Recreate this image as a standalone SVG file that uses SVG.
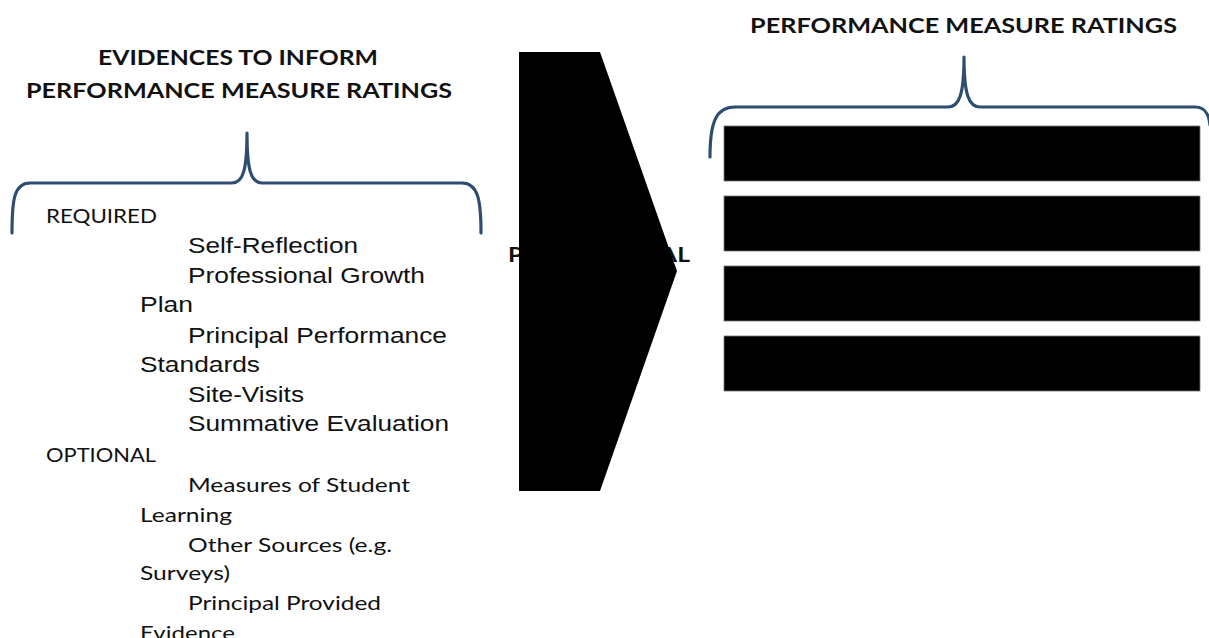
<svg xmlns="http://www.w3.org/2000/svg" width="1209" height="638" viewBox="0 0 1209 638">
<style>
.title{font-family:Lato,"Open Sans","Liberation Sans",sans-serif;font-weight:bold;font-size:21px;fill:#111}
.cal{font-family:Lato,"Open Sans","Liberation Sans",sans-serif;font-size:20px;fill:#111}
.ari{font-family:"Liberation Sans",Arial,sans-serif;font-size:22px;fill:#111}
.brace{fill:none;stroke:#2e4d70;stroke-width:3.2;stroke-linecap:round;stroke-linejoin:round}
.bar{fill:#000;stroke:#777;stroke-width:0.8}
</style>
<rect width="1209" height="638" fill="#fff"/>
<g id="left-title">
<text class="title" x="98" y="65" textLength="280" lengthAdjust="spacingAndGlyphs">EVIDENCES TO INFORM</text>
<text class="title" x="26" y="98" textLength="426" lengthAdjust="spacingAndGlyphs">PERFORMANCE MEASURE RATINGS</text>
</g>
<g id="right-title">
<text class="title" x="750" y="33" textLength="427" lengthAdjust="spacingAndGlyphs">PERFORMANCE MEASURE RATINGS</text>
</g>
<g id="connectors">
<path id="left-brace" class="brace" d="M12,233 C12,200 14,183 30,183 L232,183 C243,183 247,170 247,133 C247,170 251,183 262,183 L462,183 C478,183 481,200 481,233"/>
<path id="right-brace" class="brace" d="M710,157 C710,122 716,107 735,107 L948,107 C959,107 964,95 964,57 C964,95 969,107 980,107 L1195,107 C1206,107 1209,115 1210,125"/>
</g>
<g id="evidence-list">
<text class="cal" x="46" y="223" textLength="111" lengthAdjust="spacingAndGlyphs">REQUIRED</text>
<text class="ari" x="188" y="253" textLength="170" lengthAdjust="spacingAndGlyphs">Self-Reflection</text>
<text class="ari" x="188" y="283" textLength="237" lengthAdjust="spacingAndGlyphs">Professional Growth</text>
<text class="ari" x="140" y="312" textLength="53" lengthAdjust="spacingAndGlyphs">Plan</text>
<text class="ari" x="188" y="343" textLength="259" lengthAdjust="spacingAndGlyphs">Principal Performance</text>
<text class="ari" x="140" y="372" textLength="120" lengthAdjust="spacingAndGlyphs">Standards</text>
<text class="ari" x="188" y="402" textLength="116" lengthAdjust="spacingAndGlyphs">Site-Visits</text>
<text class="ari" x="188" y="431" textLength="261" lengthAdjust="spacingAndGlyphs">Summative Evaluation</text>
<text class="cal" x="46" y="462" textLength="110" lengthAdjust="spacingAndGlyphs">OPTIONAL</text>
<text class="cal" x="188" y="492" textLength="222" lengthAdjust="spacingAndGlyphs">Measures of Student</text>
<text class="cal" x="140" y="522" textLength="92" lengthAdjust="spacingAndGlyphs">Learning</text>
<text class="cal" x="188" y="552" textLength="204" lengthAdjust="spacingAndGlyphs">Other Sources (e.g.</text>
<text class="cal" x="140" y="580" textLength="90" lengthAdjust="spacingAndGlyphs">Surveys)</text>
<text class="cal" x="188" y="610" textLength="193" lengthAdjust="spacingAndGlyphs">Principal Provided</text>
<text class="cal" x="140" y="640" textLength="95" lengthAdjust="spacingAndGlyphs">Evidence</text>
</g>
<g id="chevron">
<text class="title" x="508" y="262" textLength="182" lengthAdjust="spacingAndGlyphs">PROFESSIONAL</text>
<polygon points="519,52 600,52 677,271 600,491 519,491" fill="#000"/>
</g>
<g id="rating-1"><rect class="bar" x="724" y="126" width="476" height="55"/></g>
<g id="rating-2"><rect class="bar" x="724" y="196" width="476" height="55"/></g>
<g id="rating-3"><rect class="bar" x="724" y="266" width="476" height="55"/></g>
<g id="rating-4"><rect class="bar" x="724" y="336" width="476" height="55"/></g>
</svg>
